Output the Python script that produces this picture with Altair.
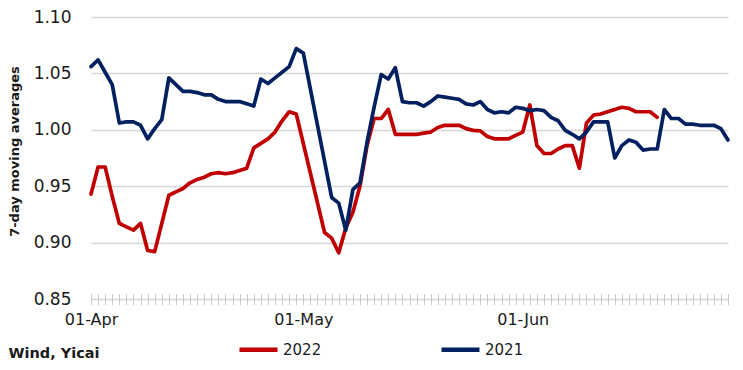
import altair as alt
import pandas as pd

# Day offsets from 01-Apr and 7-day moving averages
days_2022 = [0, 1, 2, 3, 4, 5, 6, 7, 8, 9, 11, 12, 13, 14, 15, 16, 17, 18, 19, 20,
             21, 22, 23, 24, 25, 26, 27, 28, 29, 33, 34, 35, 36, 37, 38, 39, 40, 41,
             42, 43, 44, 45, 46, 47, 48, 49, 50, 51, 52, 53, 54, 55, 56, 57, 58, 59,
             60, 61, 62, 63, 64, 65, 66, 67, 68, 69, 70, 71, 72, 73, 74, 75, 76, 77,
             78, 79, 80]
vals_2022 = [0.943, 0.967, 0.967, 0.941, 0.917, 0.914, 0.911, 0.917, 0.893, 0.892,
             0.942, 0.945, 0.948, 0.953, 0.956, 0.958, 0.961, 0.962, 0.961, 0.962,
             0.964, 0.966, 0.984, 0.988, 0.992, 0.998, 1.008, 1.016, 1.014, 0.909,
             0.904, 0.891, 0.913, 0.927, 0.950, 0.986, 1.010, 1.010, 1.018, 0.996,
             0.996, 0.996, 0.996, 0.997, 0.998, 1.002, 1.004, 1.004, 1.004, 1.001,
             0.9995, 0.999, 0.994, 0.992, 0.992, 0.992, 0.995, 0.998, 1.022, 0.986,
             0.979, 0.979, 0.983, 0.986, 0.986, 0.966, 1.006, 1.013, 1.014, 1.016,
             1.018, 1.020, 1.019, 1.016, 1.016, 1.016, 1.011]

days_2021 = [0, 1, 2, 3, 4, 5, 6, 7, 8, 9, 10, 11, 12, 13, 14, 15, 16, 17, 18, 19,
             20, 21, 22, 23, 24, 25, 26, 27, 28, 29, 30, 34, 35, 36, 37, 38, 39, 40,
             41, 42, 43, 44, 45, 46, 47, 48, 49, 50, 51, 52, 53, 54, 55, 56, 57, 58,
             59, 60, 61, 62, 63, 64, 65, 66, 67, 68, 69, 70, 71, 72, 73, 74, 75, 76,
             77, 78, 79, 80, 81, 82, 83, 84, 85, 86, 87, 88, 89, 90]
vals_2021 = [1.056, 1.062, 1.051, 1.040, 1.006, 1.007, 1.007, 1.004, 0.992, 1.001,
             1.009, 1.046, 1.040, 1.034, 1.034, 1.033, 1.031, 1.031, 1.027, 1.025,
             1.025, 1.025, 1.023, 1.021, 1.045, 1.041, 1.046, 1.051, 1.056, 1.072,
             1.068, 0.940, 0.935, 0.911, 0.947, 0.953, 0.989, 1.020, 1.049, 1.045,
             1.055, 1.025, 1.024, 1.024, 1.021, 1.025, 1.030, 1.029, 1.028, 1.027,
             1.023, 1.022, 1.025, 1.018, 1.015, 1.016, 1.015, 1.020, 1.019, 1.017,
             1.018, 1.017, 1.011, 1.008, 0.9995, 0.996, 0.992, 0.998, 1.007, 1.007,
             1.007, 0.975, 0.986, 0.991, 0.989, 0.982, 0.983, 0.983, 1.018, 1.010,
             1.010, 1.005, 1.005, 1.004, 1.004, 1.004, 1.001, 0.991]

series_names = ["2022", "2021"]
series_colors = ["#C00000", "#002060"]
y_ticks = [0.85, 0.90, 0.95, 1.00, 1.05, 1.10]
x_start, x_end = "2022-04-01", "2022-06-30"
source_text = "Wind, Yicai"

base = pd.Timestamp(x_start)
frames = []
for name, d, v in [("2022", days_2022, vals_2022), ("2021", days_2021, vals_2021)]:
    dates = [(base + pd.Timedelta(days=int(k))).strftime("%Y-%m-%d") for k in d]
    frames.append(pd.DataFrame({"date": dates, "value": v, "series": name}))
df = pd.concat(frames, ignore_index=True)

FONT = "DejaVu Sans"
TXT = "#1a1a1a"

chart = alt.Chart(df).mark_line(strokeWidth=3.7, strokeJoin="round", strokeCap="round").encode(
    x=alt.X("date:T",
            scale=alt.Scale(type="utc", domain=[x_start, x_end]),
            axis=alt.Axis(title=source_text, grid=False, domain=False,
                          tickCount={"interval": "day", "step": 1},
                          tickSize=11, tickColor="#c8c8c8", tickWidth=1,
                          offset=-5.5,
                          labelExpr="utcdate(datum.value) == 1 ? utcFormat(datum.value, '%d-%b') : ''",
                          labelOverlap=False, labelFlush=False,
                          labelFont=FONT, labelFontSize=16, labelColor=TXT,
                          labelPadding=7,
                          titleFont=FONT, titleFontSize=14.5, titleFontWeight="bold",
                          titleColor=TXT, titleX=-83, titleY=60,
                          titleAlign="left", titleBaseline="middle", titleAnchor="start")),
    y=alt.Y("value:Q",
            scale=alt.Scale(domain=[0.85, 1.10], nice=False, zero=False),
            axis=alt.Axis(title="7-day moving averages", values=y_ticks, format=".2f",
                          domain=False, ticks=False, grid=True,
                          gridColor="#d6d6d6", gridWidth=1.6,
                          labelFont=FONT, labelFontSize=17, labelColor=TXT,
                          labelPadding=20,
                          titleFont=FONT, titleFontSize=13, titleFontWeight="bold",
                          titleColor=TXT, titleAngle=270, titleX=-77, titleY=134,
                          titleAlign="center", titleBaseline="middle")),
    color=alt.Color("series:N",
                    scale=alt.Scale(domain=series_names, range=series_colors),
                    legend=alt.Legend(title=None, orient="none", direction="horizontal",
                                      legendX=146, legendY=311,
                                      symbolType="M-1,0H1", symbolSize=1444,
                                      symbolStrokeWidth=4.5,
                                      labelFont=FONT, labelFontSize=15, labelColor=TXT,
                                      labelOffset=3, columnPadding=110)),
).properties(
    width=637,
    height=282,
    autosize=alt.AutoSizeParams(type="none"),
    padding={"left": 83, "top": 9, "right": 7, "bottom": 63},
).configure_view(strokeWidth=0)

chart.save("out.html", embed_options={"renderer": "svg", "actions": False})
